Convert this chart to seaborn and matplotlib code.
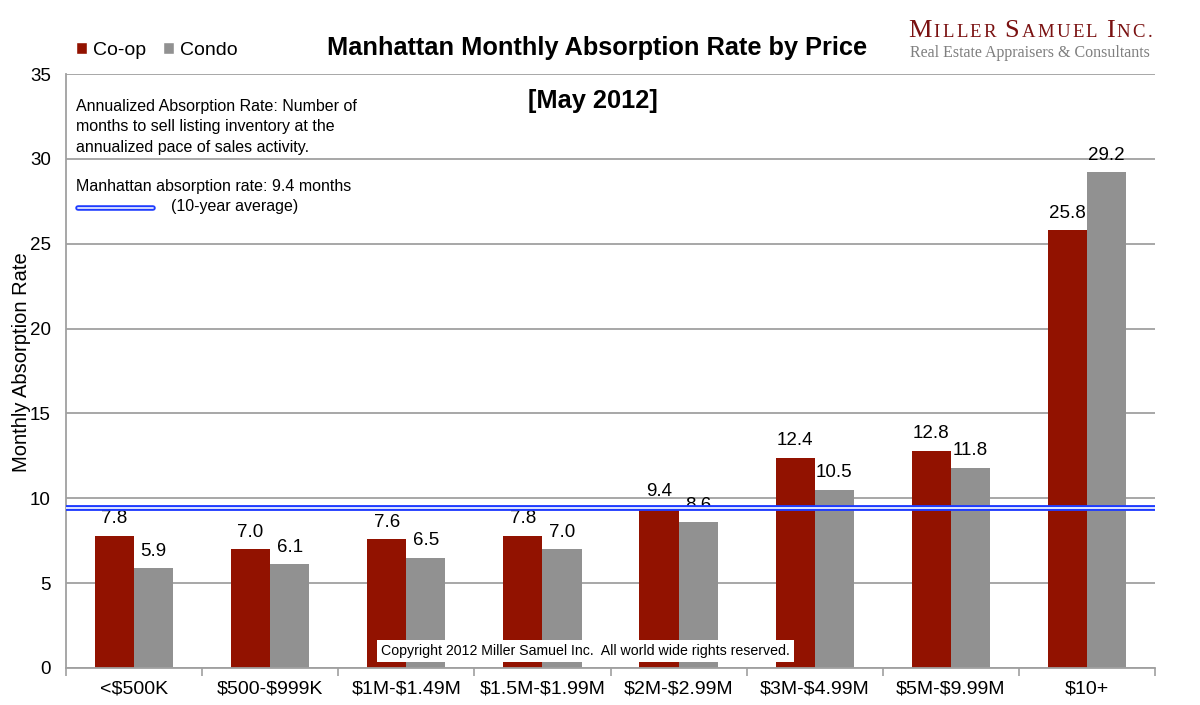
import matplotlib
matplotlib.use("Agg")
import matplotlib.pyplot as plt
import seaborn as sns
import pandas as pd
from matplotlib.patches import Patch
from matplotlib.ticker import FixedLocator, NullFormatter

categories = ["<$500K", "$500-$999K", "$1M-$1.49M", "$1.5M-$1.99M",
              "$2M-$2.99M", "$3M-$4.99M", "$5M-$9.99M", "$10+"]
coop = [7.8, 7.0, 7.6, 7.8, 9.4, 12.4, 12.8, 25.8]
condo = [5.9, 6.1, 6.5, 7.0, 8.6, 10.5, 11.8, 29.2]
series = ["Co-op", "Condo"]
avg_rate = 9.4
y_ticks = [0, 5, 10, 15, 20, 25, 30, 35]

COOP_C = "#921200"
CONDO_C = "#919191"

df = pd.DataFrame({
    "Price": categories * 2,
    "Rate": coop + condo,
    "Type": [series[0]] * len(categories) + [series[1]] * len(categories),
})

sns.set_theme(style="white")
plt.rcParams["font.family"] = ["Liberation Sans", "DejaVu Sans"]
plt.rcParams["text.parse_math"] = False
for k in ["text.color", "axes.labelcolor", "xtick.color", "ytick.color"]:
    plt.rcParams[k] = "black"

fig = plt.figure(figsize=(12, 7.05), dpi=100)
ax = fig.add_axes([0.055, 0.0525, 0.9075, 0.8425])

sns.barplot(data=df, x="Price", y="Rate", hue="Type", order=categories,
            hue_order=series, palette=[COOP_C, CONDO_C], width=0.575,
            gap=0, saturation=1, legend=False, ax=ax, edgecolor="none")

for cont in ax.containers:
    ax.bar_label(cont, fmt="%.1f", padding=6, fontsize=13.5, color="black")

ax.set_ylim(0, 35)
ax.set_xlim(-0.5, len(categories) - 0.5)
ax.set_yticks(y_ticks)
ax.yaxis.grid(True, color="#a0a0a0", linewidth=1.3)
ax.set_axisbelow(True)
ax.tick_params(axis="y", labelsize=13.5, length=0, pad=11)
ax.tick_params(axis="x", which="major", labelsize=14, length=0, pad=9)
ax.xaxis.set_minor_locator(FixedLocator([i - 0.5 for i in range(len(categories) + 1)]))
ax.xaxis.set_minor_formatter(NullFormatter())
ax.tick_params(axis="x", which="minor", length=6, width=1.2, color="#a0a0a0",
               direction="out", bottom=True)
ax.set_xlabel("")
ax.set_ylabel("Monthly Absorption Rate", fontsize=14.5)
ax.yaxis.set_label_coords(-0.032, 0.515)
for s in ["top", "right"]:
    ax.spines[s].set_visible(False)
for s in ["left", "bottom"]:
    ax.spines[s].set_color("#a0a0a0")
    ax.spines[s].set_linewidth(1.3)

# 10-year average double line
ax.axhline(avg_rate, color="#1f3cff", linewidth=4.2, zorder=5)
ax.axhline(avg_rate, color="#dfe6ff", linewidth=1.4, zorder=6)

# annotations
ax.text(0.009, 0.958, "Annualized Absorption Rate: Number of\nmonths to sell listing inventory at the\nannualized pace of sales activity.",
        transform=ax.transAxes, fontsize=11.5, va="top", ha="left", linespacing=1.45)
ax.text(0.009, 0.824, "Manhattan absorption rate: 9.4 months", transform=ax.transAxes,
        fontsize=11.5, va="top", ha="left")
ax.text(0.096, 0.79, "(10-year average)", transform=ax.transAxes,
        fontsize=11.5, va="top", ha="left")
ax.plot([0.011, 0.08], [0.775, 0.775], transform=ax.transAxes, color="#1f3cff",
        linewidth=4.0, clip_on=False)
ax.plot([0.011, 0.08], [0.775, 0.775], transform=ax.transAxes, color="#dfe6ff",
        linewidth=1.3, clip_on=False)

ax.text(0.4835, 0.954, "[May 2012]", transform=ax.transAxes, fontsize=18.3,
        fontweight="bold", ha="center", va="center")

ax.text(0.289, 0.0287, "Copyright 2012 Miller Samuel Inc.  All world wide rights reserved.",
        transform=ax.transAxes, fontsize=10.2, ha="left", va="center", zorder=10,
        bbox=dict(facecolor="white", edgecolor="none", pad=3))

# title
fig.text(0.4975, 0.932, "Manhattan Monthly Absorption Rate by Price", fontsize=18.3,
         fontweight="bold", ha="center", va="center")

# legend
handles = [Patch(facecolor=COOP_C), Patch(facecolor=CONDO_C)]
fig.legend(handles, series, loc="center left", bbox_to_anchor=(0.057, 0.929), ncol=2,
           frameon=False, fontsize=14, handlelength=0.55, handleheight=0.55,
           handletextpad=0.3, columnspacing=0.9, borderaxespad=0)

# logo (small caps with letter spacing)
logo_c = "#7a1111"
logo_words = ["Miller", "Samuel", "Inc."]
renderer = fig.canvas.get_renderer()
W, H = fig.bbox.width, fig.bbox.height
x_px = 908.0
tracking = 2.3
for wi, word in enumerate(logo_words):
    for ci, ch in enumerate(word):
        big = ch.isupper() and ci == 0
        t = fig.text(x_px / W, 0.9475, ch.upper(), fontsize=19 if big else 13.5,
                     color=logo_c, family="Liberation Serif", ha="left", va="baseline")
        x_px = t.get_window_extent(renderer).x1 + tracking
    if wi < len(logo_words) - 1:
        x_px += 6
fig.text(910 / W, 0.919, "Real Estate Appraisers & Consultants", fontsize=11.5,
         color="#7f7f7f", family="Liberation Serif", ha="left", va="baseline")

fig.savefig("out.png", dpi=100)
